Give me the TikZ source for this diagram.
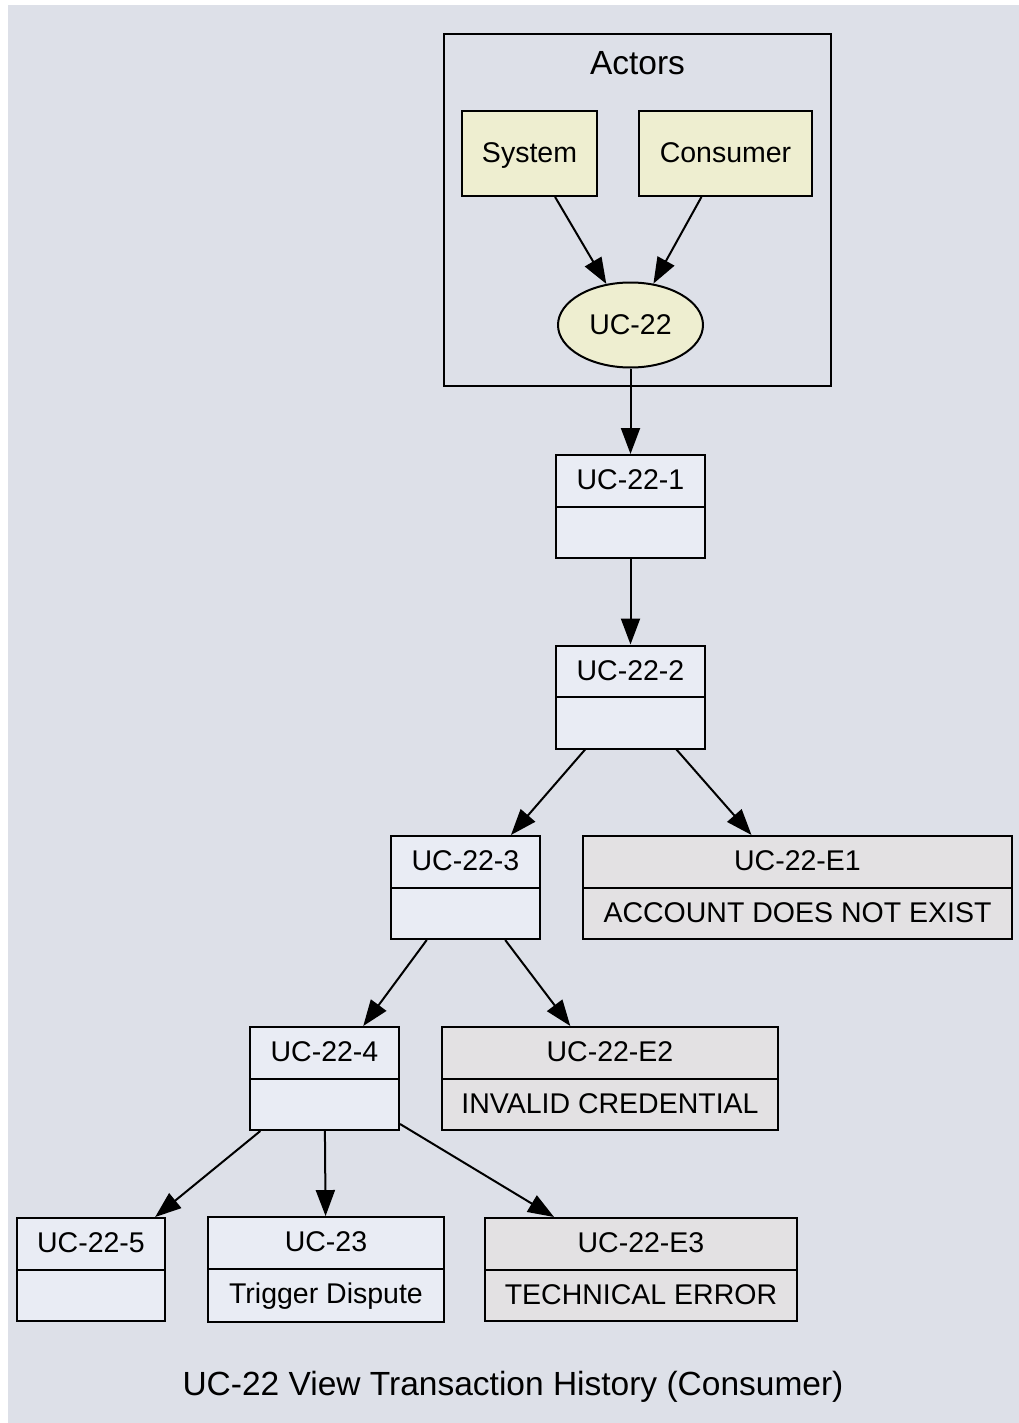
\documentclass[tikz,border=0pt]{standalone}
\usepackage{fontspec}
\setmainfont{Liberation Sans}
\usepackage{tikz}
\usetikzlibrary{shapes.geometric,shapes.multipart,arrows.meta}
\definecolor{bgblue}{RGB}{221,224,232}
\definecolor{actorfill}{RGB}{238,238,208}
\definecolor{recfill}{RGB}{233,236,244}
\definecolor{errfill}{RGB}{227,225,227}
\tikzset{
  basenode/.style = {draw=black, line width=2pt, inner sep=0pt, font=\fontsize{28.5}{34}\selectfont},
  actor/.style = {basenode, rectangle, fill=actorfill, minimum height=85pt, text height=22pt, text depth=4pt},
  usecase/.style = {basenode, ellipse, fill=actorfill, minimum width=145pt, minimum height=85pt, text height=22pt, text depth=4pt},
  ucrec/.style = {basenode, rectangle split, rectangle split parts=2, fill=recfill, inner ysep=11.75pt},
  errrec/.style = {ucrec, fill=errfill},
  flow/.style = {-{Triangle[length=26pt,width=19pt]}, line width=2pt},
  bigtext/.style = {inner sep=0pt, font=\fontsize{33.5}{40}\selectfont},
}
\newcommand{\recstrut}{\rule[-4pt]{0pt}{26pt}}

\begin{document}
\begin{tikzpicture}[x=1pt,y=-1pt]
\useasboundingbox (0,0) rectangle (1019,1423);
\fill [bgblue] (8,5) rectangle (1019,1423);

% actors cluster
\node [draw=black, line width=2pt, minimum width=387pt, minimum height=352pt] (actors) at (637.5,210) {};
\node [bigtext] (actorstitle) at (637.5,63) {Actors};
\node [actor, minimum width=135pt] (system) at (529.5,153.5) {System};
\node [actor, minimum width=173pt] (consumer) at (725.5,153.5) {Consumer};
\node [usecase] (uc22) at (630.5,325) {UC-22};

\node [ucrec, minimum width=149pt] (uc22-1) at (630.5,506.5) {\recstrut UC-22-1 \nodepart{second} \recstrut};
\node [ucrec, minimum width=149pt] (uc22-2) at (630.5,697) {\recstrut UC-22-2 \nodepart{second} \recstrut};
\node [ucrec, minimum width=149pt] (uc22-3) at (465.5,887.5) {\recstrut UC-22-3 \nodepart{second} \recstrut};
\node [errrec, minimum width=429pt] (uc22-e1) at (797.5,887.5) {\recstrut UC-22-E1 \nodepart{second} \recstrut ACCOUNT DOES NOT EXIST};
\node [ucrec, minimum width=149pt] (uc22-4) at (324.5,1078.5) {\recstrut UC-22-4 \nodepart{second} \recstrut};
\node [errrec, minimum width=336pt] (uc22-e2) at (610,1078.5) {\recstrut UC-22-E2 \nodepart{second} \recstrut INVALID CREDENTIAL};
\node [ucrec, minimum width=148pt] (uc22-5) at (91,1269.5) {\recstrut UC-22-5 \nodepart{second} \recstrut};
\node [ucrec, minimum width=236pt] (uc23) at (326,1269.5) {\recstrut UC-23 \nodepart{second} \recstrut Trigger Dispute};
\node [errrec, minimum width=312pt] (uc22-e3) at (641,1269.5) {\recstrut UC-22-E3 \nodepart{second} \recstrut TECHNICAL ERROR};

\node [bigtext] (caption) at (513,1387) {UC-22 View Transaction History (Consumer)};

\draw [flow] (system) -- (uc22);
\draw [flow] (consumer) -- (uc22);
\draw [flow] (uc22) -- (uc22-1);
\draw [flow] (uc22-1) -- (uc22-2);
\draw [flow] (uc22-2) -- (uc22-3);
\draw [flow] (uc22-2) -- (uc22-e1);
\draw [flow] (uc22-3) -- (uc22-4);
\draw [flow] (uc22-3) -- (uc22-e2);
\draw [flow] (uc22-4) -- (uc22-5);
\draw [flow] (uc22-4) -- (uc23);
\draw [flow] (uc22-4) -- (uc22-e3);
\end{tikzpicture}
\end{document}
